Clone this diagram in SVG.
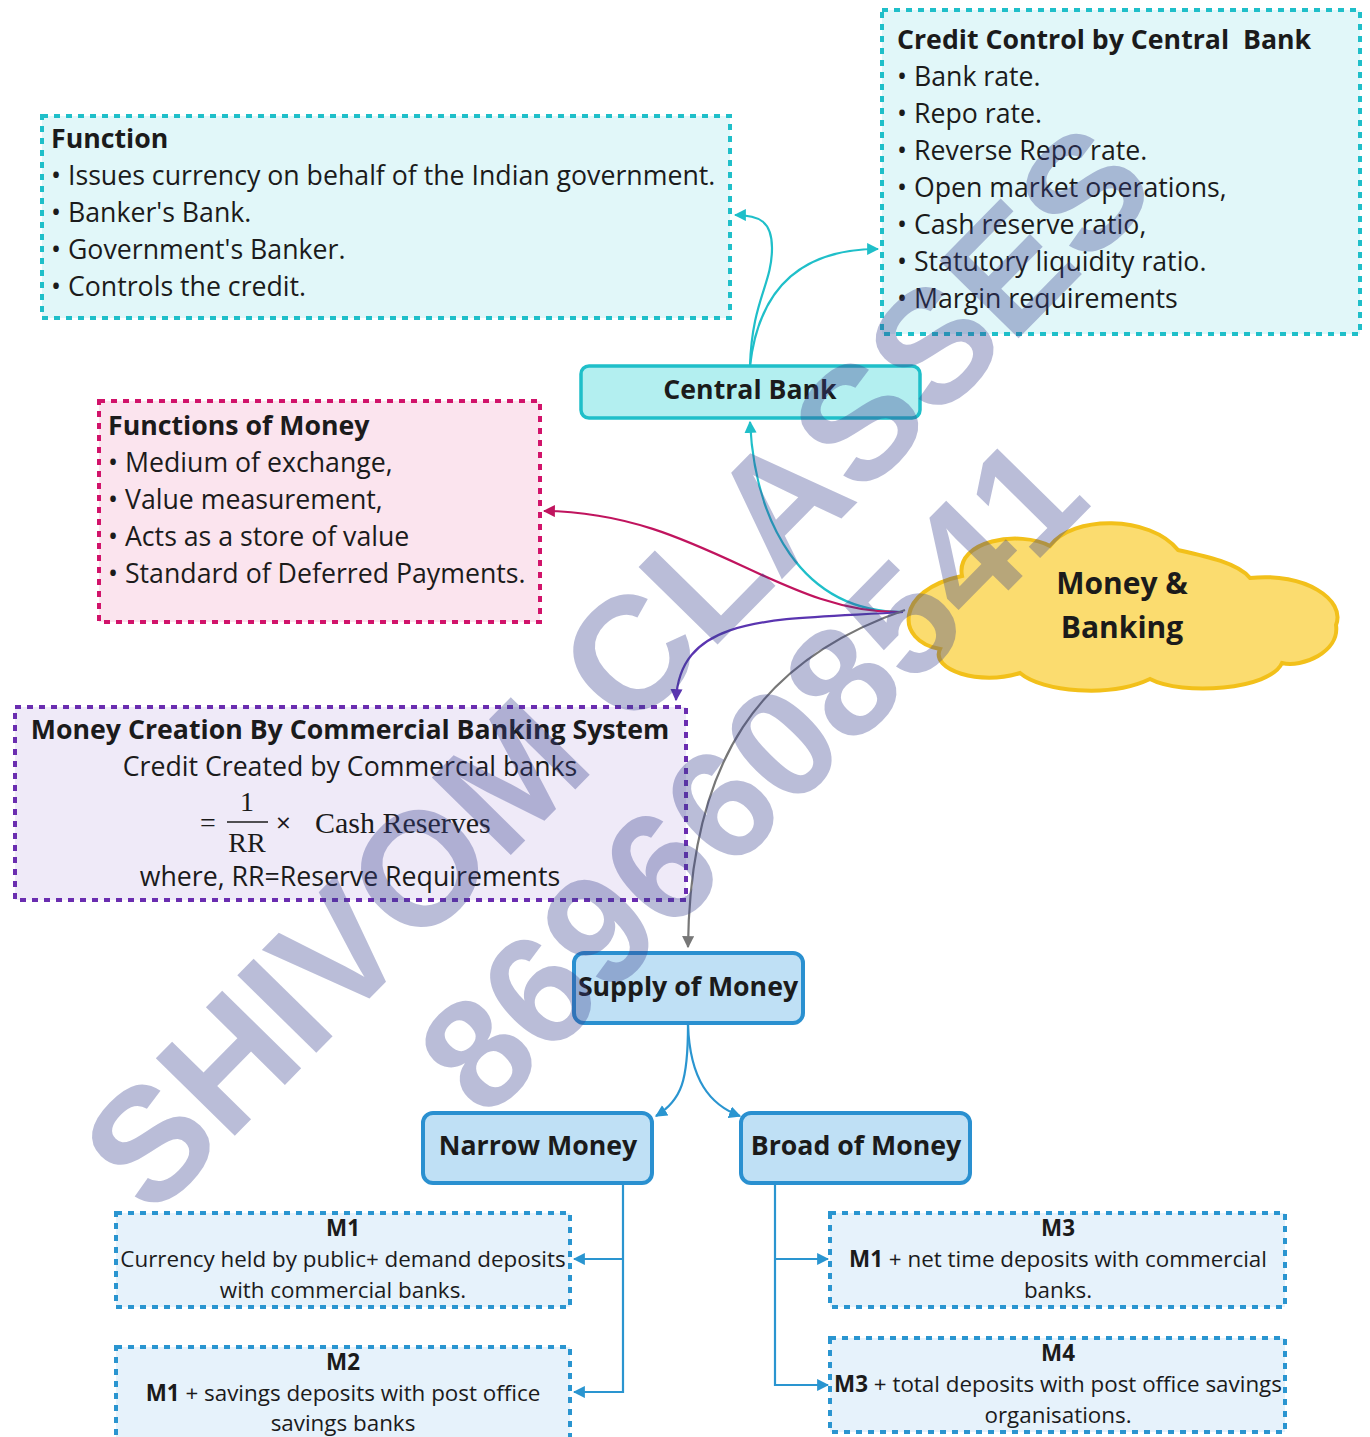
<svg xmlns="http://www.w3.org/2000/svg" width="1370" height="1437" viewBox="0 0 1370 1437">
<defs>
<style>
text{font-family:"Open Sans","Noto Sans","Liberation Sans",sans-serif;fill:#1b1b1b}
.t{font-size:26.7px}
.b{font-weight:700}
.s{font-size:22.4px}
.dash{stroke-width:4;stroke-dasharray:6 6}
.c{fill:none;stroke-width:2.2}
.wm{font-family:"Liberation Sans",Arial,sans-serif;font-weight:700;fill:#3a428f;fill-opacity:0.35}
.f{font-family:"Liberation Serif","Times New Roman",serif;font-size:28px}
</style>
<marker id="ac" viewBox="0 0 10 10" refX="9" refY="5" markerWidth="5.5" markerHeight="5.5" orient="auto"><path d="M0,0L10,5L0,10z" fill="#1fbfc9"/></marker>
<marker id="am" viewBox="0 0 10 10" refX="9" refY="5" markerWidth="5.5" markerHeight="5.5" orient="auto"><path d="M0,0L10,5L0,10z" fill="#c0145e"/></marker>
<marker id="ap" viewBox="0 0 10 10" refX="9" refY="5" markerWidth="5.5" markerHeight="5.5" orient="auto"><path d="M0,0L10,5L0,10z" fill="#5a35b0"/></marker>
<marker id="ag" viewBox="0 0 10 10" refX="9" refY="5" markerWidth="5.5" markerHeight="5.5" orient="auto"><path d="M0,0L10,5L0,10z" fill="#777"/></marker>
<marker id="ab" viewBox="0 0 10 10" refX="9" refY="5" markerWidth="5.5" markerHeight="5.5" orient="auto"><path d="M0,0L10,5L0,10z" fill="#2a95d0"/></marker>
</defs>
<rect width="1370" height="1437" fill="#fff"/>

<g id="connectors">
<path class="c" stroke="#1fbfc9" d="M750,366 C752,300 772,285 772,248 C772,222 760,215 735,215" marker-end="url(#ac)"/>
<path class="c" stroke="#1fbfc9" d="M750,366 C758,295 795,249 878,249" marker-end="url(#ac)"/>
<path class="c" stroke="#1fbfc9" d="M903,612 C800,612 755,520 750,422" marker-end="url(#ac)"/>
<path class="c" stroke="#c0145e" d="M903,612 C780,615 700,512 544,511" marker-end="url(#am)"/>
<path class="c" stroke="#5a35b0" d="M903,612 C780,620 680,612 676,700" marker-end="url(#ap)"/>
<path class="c" stroke="#777" d="M905,610 C760,660 690,760 688,947" marker-end="url(#ag)"/>
<path class="c" stroke="#2a95d0" d="M688,1025 C688,1080 682,1100 656,1116" marker-end="url(#ab)"/>
<path class="c" stroke="#2a95d0" d="M688,1025 C690,1080 710,1105 740,1116" marker-end="url(#ab)"/>
<path class="c" stroke="#2a95d0" d="M623,1183 V1392 H574" marker-end="url(#ab)"/>
<path class="c" stroke="#2a95d0" d="M623,1259 H574" marker-end="url(#ab)"/>
<path class="c" stroke="#2a95d0" d="M775,1183 V1385 H828" marker-end="url(#ab)"/>
<path class="c" stroke="#2a95d0" d="M775,1259 H828" marker-end="url(#ab)"/>
</g>

<g id="function">
<rect x="42" y="116" width="688" height="202" fill="#e1f7f9" stroke="#1fbfc9" class="dash"/>
<text class="t b" x="51" y="148">Function</text>
<text class="t" x="51" y="185">• Issues currency on behalf of the Indian government.</text>
<text class="t" x="51" y="222">• Banker's Bank.</text>
<text class="t" x="51" y="259">• Government's Banker.</text>
<text class="t" x="51" y="296">• Controls the credit.</text>
</g>

<g id="credit-control">
<rect x="882" y="10" width="478" height="324" fill="#e1f7f9" stroke="#1fbfc9" class="dash"/>
<text class="t b" x="897" y="49" xml:space="preserve">Credit Control by Central  Bank</text>
<text class="t" x="897" y="86">• Bank rate.</text>
<text class="t" x="897" y="123">• Repo rate.</text>
<text class="t" x="897" y="160">• Reverse Repo rate.</text>
<text class="t" x="897" y="197">• Open market operations,</text>
<text class="t" x="897" y="234">• Cash reserve ratio,</text>
<text class="t" x="897" y="271">• Statutory liquidity ratio.</text>
<text class="t" x="897" y="308">• Margin requirements</text>
</g>

<g id="central-bank">
<rect x="581" y="366" width="339" height="52" rx="8" fill="#b3eff0" stroke="#1fbfc9" stroke-width="3.5"/>
<text class="t b" x="750" y="399" text-anchor="middle">Central Bank</text>
</g>

<g id="functions-of-money">
<rect x="99" y="401" width="441" height="221" fill="#fbe4ee" stroke="#d1136a" class="dash"/>
<text class="t b" x="108" y="435">Functions of Money</text>
<text class="t" x="108" y="472">• Medium of exchange,</text>
<text class="t" x="108" y="509">• Value measurement,</text>
<text class="t" x="108" y="546">• Acts as a store of value</text>
<text class="t" x="108" y="583">• Standard of Deferred Payments.</text>
</g>

<g id="money-creation">
<rect x="15" y="707" width="671" height="193" fill="#efeaf8" stroke="#6a2db0" class="dash"/>
<text class="t b" x="350" y="739" text-anchor="middle">Money Creation By Commercial Banking System</text>
<text class="t" x="350" y="776" text-anchor="middle">Credit Created by Commercial banks</text>
<text class="f" x="200" y="832">=</text>
<text class="f" x="247" y="811" text-anchor="middle">1</text>
<line x1="227" y1="822" x2="268" y2="822" stroke="#1b1b1b" stroke-width="1.5"/>
<text class="f" x="247" y="852" text-anchor="middle">RR</text>
<text x="276" y="832" style="font-size:26px">×</text>
<text class="f" x="315" y="833" style="font-size:30px">Cash Reserves</text>
<text class="t" x="350" y="886" text-anchor="middle">where, RR=Reserve Requirements</text>
</g>

<g id="money-banking">
<path d="M962,576 C955,540 1020,530 1050,546 C1072,515 1150,515 1178,550 C1205,556 1238,563 1250,578 C1305,572 1346,600 1336,625 C1340,652 1302,668 1282,663 C1270,690 1182,696 1150,679 C1110,698 1042,692 1020,673 C980,686 930,670 940,649 C895,641 895,590 962,576 Z" fill="#fbdc6f" stroke="#f2c01a" stroke-width="4"/>
<text class="b" x="1122" y="594" text-anchor="middle" style="font-size:30px">Money &amp;</text>
<text class="b" x="1122" y="638" text-anchor="middle" style="font-size:30px">Banking</text>
</g>

<g id="supply-of-money">
<rect x="574" y="953" width="229" height="70" rx="10" fill="#bfe0f5" stroke="#2a90d0" stroke-width="4"/>
<text class="t b" x="688" y="996" text-anchor="middle">Supply of Money</text>
</g>

<g id="narrow-money">
<rect x="423" y="1113" width="229" height="70" rx="10" fill="#bfe0f5" stroke="#2a90d0" stroke-width="4"/>
<text class="t b" x="538" y="1155" text-anchor="middle">Narrow Money</text>
</g>

<g id="broad-money">
<rect x="741" y="1113" width="229" height="70" rx="10" fill="#bfe0f5" stroke="#2a90d0" stroke-width="4"/>
<text class="t b" x="856" y="1155" text-anchor="middle">Broad of Money</text>
</g>

<g id="m1">
<rect x="116" y="1213" width="454" height="94" fill="#e6f2fb" stroke="#2a95d0" class="dash"/>
<text class="s b" x="343" y="1236" text-anchor="middle">M1</text>
<text class="s" x="343" y="1267" text-anchor="middle">Currency held by public+ demand deposits</text>
<text class="s" x="343" y="1298" text-anchor="middle">with commercial banks.</text>
</g>

<g id="m2">
<rect x="116" y="1347" width="454" height="94" fill="#e6f2fb" stroke="#2a95d0" class="dash"/>
<text class="s b" x="343" y="1370" text-anchor="middle">M2</text>
<text class="s" x="343" y="1401" text-anchor="middle"><tspan font-weight="700">M1</tspan> + savings deposits with post office</text>
<text class="s" x="343" y="1431" text-anchor="middle">savings banks</text>
</g>

<g id="m3">
<rect x="830" y="1213" width="455" height="94" fill="#e6f2fb" stroke="#2a95d0" class="dash"/>
<text class="s b" x="1058" y="1236" text-anchor="middle">M3</text>
<text class="s" x="1058" y="1267" text-anchor="middle"><tspan font-weight="700">M1</tspan> + net time deposits with commercial</text>
<text class="s" x="1058" y="1298" text-anchor="middle">banks.</text>
</g>

<g id="m4">
<rect x="830" y="1338" width="455" height="94" fill="#e6f2fb" stroke="#2a95d0" class="dash"/>
<text class="s b" x="1058" y="1361" text-anchor="middle">M4</text>
<text class="s" x="1058" y="1392" text-anchor="middle"><tspan font-weight="700">M3</tspan> + total deposits with post office savings</text>
<text class="s" x="1058" y="1423" text-anchor="middle">organisations.</text>
</g>

<g id="watermark">
<text class="wm" style="font-size:161px" transform="translate(152,1220) rotate(-45.5)">SHIVOM CLASSES</text>
<text class="wm" style="font-size:156px" transform="translate(486,1122) rotate(-45.5)">8696608541</text>
</g>
</svg>
